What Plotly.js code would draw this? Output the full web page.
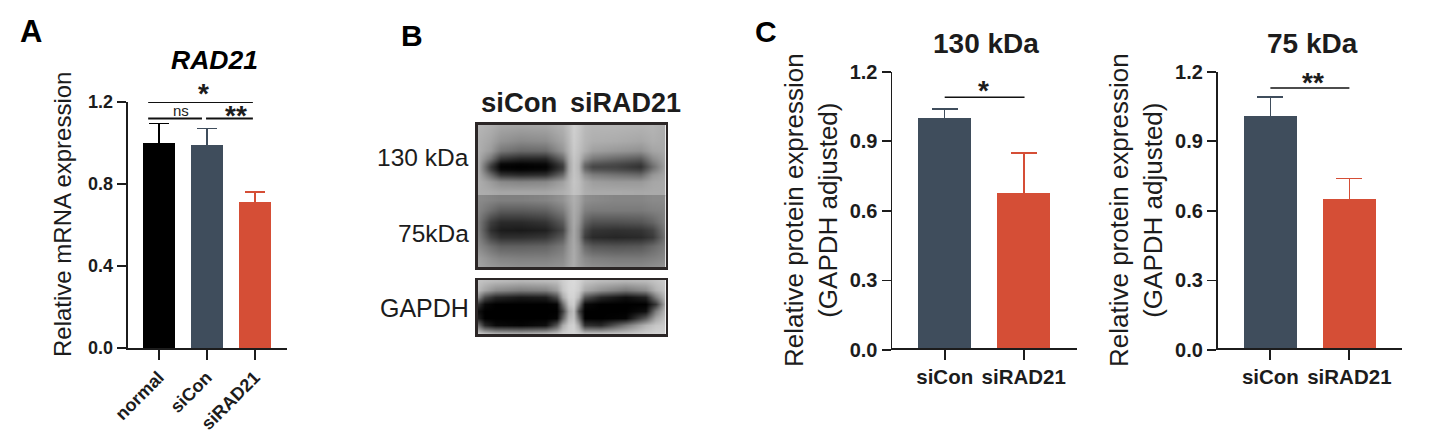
<!DOCTYPE html>
<html>
<head>
<meta charset="utf-8">
<script src="https://cdn.plot.ly/plotly-3.0.1.min.js"></script>
<style>html,body{margin:0;padding:0;background:#fff}#chart{width:1430px;height:441px}</style>
</head>
<body>
<div id="chart"></div>
<script>
// ---- data ----
const mrnaCategories = ['normal', 'siCon', 'siRAD21'];
const mrnaValues = [1.0, 0.99, 0.71];
const mrnaErrors = [0.096, 0.08, 0.05];

const proteinCategories = ['siCon', 'siRAD21'];
const p130Values = [1.0, 0.675];
const p130Errors = [0.04, 0.175];
const p75Values = [1.01, 0.65];
const p75Errors = [0.08, 0.09];

const mrnaTicks = [0, 0.4, 0.8, 1.2];
const proteinTicks = [0, 0.3, 0.6, 0.9, 1.2];

// significance brackets: [from category index, to category index, level]
const mrnaBrackets = [[-0.22, 1.96, 1.2], [-0.22, 0.9, 1.12], [0.985, 1.96, 1.12]];
const p130Brackets = [[0, 1.01, 1.09]];
const p75Brackets = [[0, 1.0, 1.13]];

// blot densities (grey levels)
const blotColsA = [478,490,500,520,545,562,568,573,578,584,592,615,640,652,666];
const blotRowsTop = [124,140,150,158,163,166,169,174,181,191];
const blotTop = [
 [182,176,168,166,168,178,192,208,200,186,182,182,180,181,172],
 [176,165,148,138,142,165,185,205,196,182,175,172,167,175,170],
 [175,155,120,105,108,150,180,202,192,176,160,152,145,165,170],
 [170,118, 55, 38, 38,105,170,198,186,145,120,105, 90,140,168],
 [168, 75, 10,  5, 10, 70,165,196,182,110, 85, 75, 60,120,168],
 [168, 60,  3,  0,  3, 60,164,196,180,100, 70, 68, 50,110,168],
 [168, 68, 10,  5, 10, 68,165,196,182,112, 85, 78, 65,122,168],
 [170,108, 52, 42, 47,105,172,196,186,145,125,115,105,150,168],
 [174,155,138,132,136,160,180,198,190,170,158,153,153,166,170],
 [173,170,166,166,166,175,183,195,190,174,170,170,168,170,170]
];
const blotRowsMid = [200,210,222,230,237,246,258,267];
const blotMid = [
 [138,132,127,127,132,147,163,175,165,143,138,133,133,138,138],
 [132,110, 92, 92, 98,125,152,172,160,128,122,122,122,128,132],
 [122, 62, 42, 42, 52, 90,143,170,150, 98, 80, 80, 85,100,132],
 [122, 48, 28, 26, 32, 70,138,168,140, 75, 52, 48, 52, 68,128],
 [128, 70, 48, 48, 55, 90,146,168,140, 62, 42, 38, 42, 58,122],
 [138,112, 96, 96,100,122,153,170,150,105, 88, 84, 88,105,128],
 [158,142,132,128,128,138,158,172,155,138,128,122,122,128,138],
 [163,153,148,143,143,148,163,172,158,148,143,138,138,143,148]
];
const blotColsB = [478,484,495,520,545,556,562,568,573,578,584,600,625,645,655,666];
const blotRowsLow = [281,290,297,304,311,318,325,333];
const blotLow = [
 [195,190,185,180,185,190,205,215,218,210,195,185,180,185,195,205],
 [185,165,140,125,130,155,198,215,215,205,170,145,120,140,178,200],
 [135, 75, 40, 25, 30, 75,170,210,212,185, 85, 40, 15, 35,125,195],
 [ 50, 10,  0,  0,  0,  5,110,195,205,130, 10,  0,  0,  0, 55,190],
 [ 15,  0,  0,  0,  0,  0, 65,170,190, 70,  0,  0,  0, 15,125,195],
 [ 30,  0,  0,  0,  0,  5,100,185,195,110,  0,  0,  5, 90,165,200],
 [110, 40, 10,  5, 15, 85,170,205,210,165, 50, 40,120,180,198,205],
 [198,185,170,165,175,188,205,210,212,205,188,188,193,205,210,210]
];

// ---- styles ----
const W = 1430, H = 441;
const FONT = 'Liberation Sans, Arial, sans-serif';
const INK = '#1c1c1c';
const BLACK = '#000000', SLATE = '#3f4d5c', RED = '#d54e36';
const CAP_SINK = 0.006; // hides the lower whisker cap inside the bar

const dx = (a, b) => [a / W, b / W];
const dy = (top, bottom) => [1 - bottom / H, 1 - top / H];

function barTraces(cats, vals, errs, cols, axis, capW) {
  return vals.map((v, i) => ({
    type: 'bar', x: [i], y: [v], width: 0.667, name: cats[i],
    marker: {color: cols[i], line: {width: 0}},
    error_y: {type: 'data', symmetric: false, array: [errs[i]], arrayminus: [CAP_SINK],
              color: cols[i], thickness: 1.6, width: capW},
    xaxis: 'x' + axis, yaxis: 'y' + axis, showlegend: false, hoverinfo: 'x+y'
  }));
}
function bracketTraces(br, axis, w) {
  return br.map(b => ({
    type: 'scatter', mode: 'lines', x: [b[0], b[1]], y: [b[2], b[2]],
    line: {color: '#111', width: w}, xaxis: 'x' + axis, yaxis: 'y' + axis,
    showlegend: false, hoverinfo: 'skip', cliponaxis: false
  }));
}
function blot(x, y, z, ax) {
  return {type: 'heatmap', x, y, z, zmin: 0, zmax: 255, zsmooth: 'best', showscale: false,
          colorscale: [[0, '#000000'], [1, '#ffffff']], xaxis: 'x' + ax, yaxis: 'y' + ax, hoverinfo: 'skip'};
}

const data = [
  blot(blotColsA, blotRowsTop, blotTop, 4),
  blot(blotColsA, blotRowsMid, blotMid, 4),
  blot(blotColsB, blotRowsLow, blotLow, 5),
  ...barTraces(mrnaCategories, mrnaValues, mrnaErrors, [BLACK, SLATE, RED], '', 10),
  ...barTraces(proteinCategories, p130Values, p130Errors, [SLATE, RED], '2', 13),
  ...barTraces(proteinCategories, p75Values, p75Errors, [SLATE, RED], '3', 13),
  ...bracketTraces(mrnaBrackets, '', 2),
  ...bracketTraces(p130Brackets, '2', 1.5),
  ...bracketTraces(p75Brackets, '3', 1.5)
];

function xAxis(dom, range, cats, size, angle) {
  return {domain: dom, range, type: 'linear', tickmode: 'array', tickvals: cats.map((c, i) => i), ticktext: cats,
    ticks: 'outside', ticklen: 10, tickwidth: 1.8, tickcolor: INK, linecolor: INK, linewidth: 1.8, showline: true,
    showgrid: false, zeroline: false, tickangle: angle, fixedrange: true,
    tickfont: {family: FONT, size, color: INK, weight: 700}};
}
function yAxis(dom, ticks, size, anchor) {
  return {domain: dom, range: [0, 1.2], tickmode: 'array', tickvals: ticks, ticktext: ticks.map(t => t.toFixed(1)),
    ticks: 'outside', ticklen: 9, tickwidth: 1.8, tickcolor: INK, linecolor: INK, linewidth: 1.8, showline: true,
    showgrid: false, zeroline: false, anchor, fixedrange: true,
    tickfont: {family: FONT, size, color: INK, weight: 700}};
}
function blotAxis(range, dom, anchor) {
  return {domain: dom, range, showline: true, mirror: true, linecolor: '#2b2626', linewidth: 2.5, ticks: '',
    showticklabels: false, showgrid: false, zeroline: false, anchor, fixedrange: true};
}
function label(text, x, y, size, opts) {
  return Object.assign({text, xref: 'paper', yref: 'paper', x: x / W, y: 1 - y / H, showarrow: false,
    xanchor: 'center', yanchor: 'middle', font: {family: FONT, size, color: INK}}, opts || {});
}
function B(text, x, y, size, opts) { return label('<b>' + text + '</b>', x, y, size, opts); }

const annotations = [
  B('A', 31, 31, 31, {font: {family: FONT, size: 31, color: '#000'}}),
  B('B', 412, 36, 30, {font: {family: FONT, size: 30, color: '#000'}}),
  B('C', 766, 31, 30, {font: {family: FONT, size: 30, color: '#000'}}),
  label('<b><i>RAD21</i></b>', 214, 60, 26.5, {font: {family: FONT, size: 26.5, color: '#000'}}),
  B('130 kDa', 986, 44, 28),
  B('75 kDa', 1312, 44, 28),
  label('Relative mRNA expression', 63, 215, 24, {textangle: -90}),
  label('Relative protein expression<br>(GAPDH adjusted)', 811, 210, 26, {textangle: -90}),
  label('Relative protein expression<br>(GAPDH adjusted)', 1136, 210, 26, {textangle: -90}),
  B('*', 204, 94, 28),
  label('ns', 180.5, 110, 15),
  B('**', 236, 116, 28),
  B('*', 984, 91, 28),
  B('**', 1313, 82, 28),
  B('siCon', 519, 103, 27.5),
  B('siRAD21', 625, 103, 27),
  label('130 kDa', 471, 157, 24.5, {xanchor: 'right'}),
  label('75kDa', 471, 233, 24.5, {xanchor: 'right'}),
  label('GAPDH', 471, 308, 25, {xanchor: 'right'})
];

const layout = {
  width: W, height: H, autosize: false, margin: {l: 0, r: 0, t: 0, b: 0, pad: 0},
  paper_bgcolor: '#fff', plot_bgcolor: 'rgba(0,0,0,0)', showlegend: false, barmode: 'overlay', bargap: 0,
  annotations,
  xaxis: xAxis(dx(127.5, 287), [-0.65, 2.67], mrnaCategories, 18, -45),
  yaxis: yAxis(dy(102, 348), mrnaTicks, 18, 'x'),
  xaxis2: xAxis(dx(892.3, 1076.7), [-0.663, 1.67], proteinCategories, 20.5, 0),
  yaxis2: yAxis(dy(71.7, 350), proteinTicks, 20, 'x2'),
  xaxis3: xAxis(dx(1217.7, 1402.3), [-0.667, 1.67], proteinCategories, 20.5, 0),
  yaxis3: yAxis(dy(71.7, 350), proteinTicks, 20, 'x3'),
  xaxis4: blotAxis([477.5, 665.5], dx(477.5, 665.5), 'y4'),
  yaxis4: blotAxis([267, 124.5], dy(124.5, 267), 'x4'),
  xaxis5: blotAxis([477.5, 665.5], dx(477.5, 665.5), 'y5'),
  yaxis5: blotAxis([334, 280], dy(280, 334), 'x5')
};

Plotly.newPlot('chart', data, layout, {displayModeBar: false, staticPlot: true});
</script>
</body>
</html>
